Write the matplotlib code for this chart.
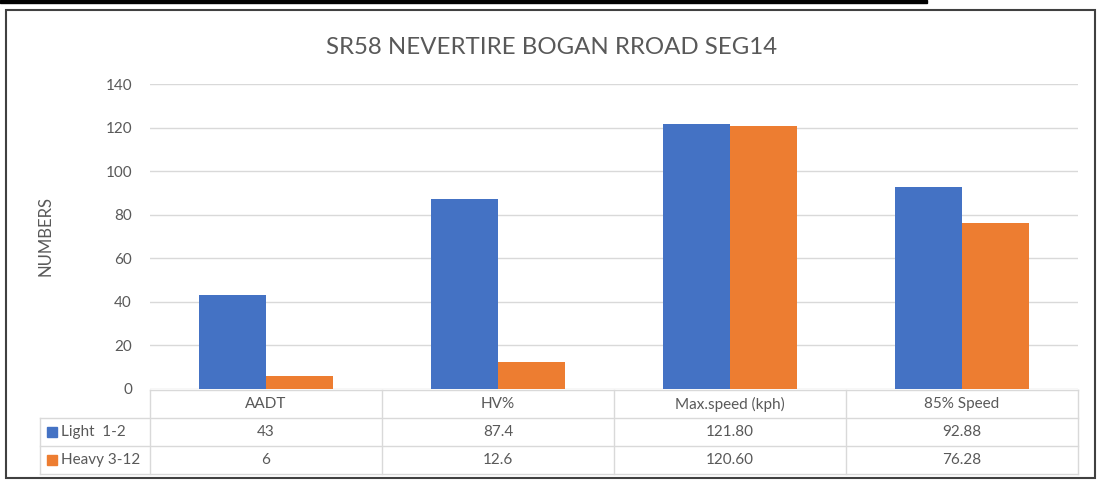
import matplotlib
matplotlib.use("Agg")
import matplotlib.pyplot as plt
from matplotlib.patches import Rectangle
from matplotlib.lines import Line2D
from matplotlib.transforms import Affine2D
import numpy as np

categories = ["AADT", "HV%", "Max.speed (kph)", "85% Speed"]
series_names = ["Light  1-2", "Heavy 3-12"]
light = [43, 87.4, 121.80, 92.88]
heavy = [6, 12.6, 120.60, 76.28]
light_labels = ["43", "87.4", "121.80", "92.88"]
heavy_labels = ["6", "12.6", "120.60", "76.28"]
colors = ["#4472C4", "#ED7D31"]
title = "SR58 NEVERTIRE BOGAN RROAD SEG14"
ylabel = "NUMBERS"
yticks = [0, 20, 40, 60, 80, 100, 120, 140]

W, H = 1097, 480
fig = plt.figure(figsize=(W / 100, H / 100), dpi=100)
plt.rcParams['font.family'] = ['Lato', 'DejaVu Sans']
txt = "#595959"
grid = "#D9D9D9"
FS = 11

# plot area in pixels
L, R, T, B = 150, 1078, 84, 389
ax = fig.add_axes([L / W, 1 - B / H, (R - L) / W, (B - T) / H])

x = np.arange(len(categories)) + 0.5
bw = 0.287
ax.bar(x - bw / 2, light, bw, color=colors[0], zorder=3)
ax.bar(x + bw / 2, heavy, bw, color=colors[1], zorder=3)
ax.set_xlim(0, len(categories))
ax.set_ylim(0, 140)
ax.set_yticks(yticks)
ax.set_yticklabels([str(v) for v in yticks], color=txt, fontsize=FS)
ax.tick_params(axis='y', length=0, pad=13)
ax.set_xticks([])
ax.grid(axis='y', color=grid, linewidth=1, zorder=0)
for s in ax.spines.values():
    s.set_visible(False)
ax.set_ylabel(ylabel, color=txt, fontsize=12, labelpad=37)

# pixel transform (x from left, y from top)
pix = Affine2D().scale(1, -1).translate(0, H)

def hline(y, x0, x1):
    fig.add_artist(Line2D([x0, x1], [y, y], transform=pix, color=grid, lw=1))

def vline(xp, y0, y1):
    fig.add_artist(Line2D([xp, xp], [y0, y1], transform=pix, color=grid, lw=1))

# data table below the plot
tb_top, tb_bot, tb_left = 390, 474, 40
row_h = (tb_bot - tb_top) / 3
ncat = len(categories)
col_x = [ax.transData.transform((i, 0))[0] for i in range(ncat + 1)]
hline(tb_top, col_x[0], col_x[-1])
for k in range(1, 4):
    hline(tb_top + row_h * k, tb_left, col_x[-1])
for c in col_x:
    vline(c, tb_top, tb_bot)
vline(tb_left, tb_top + row_h, tb_bot)

for i, cat in enumerate(categories):
    cx = (col_x[i] + col_x[i + 1]) / 2
    fig.text(cx, tb_top + row_h * 0.5, cat, transform=pix, ha='center', va='center',
             fontsize=FS, color=txt)
    fig.text(cx, tb_top + row_h * 1.5, light_labels[i], transform=pix, ha='center',
             va='center', fontsize=FS, color=txt)
    fig.text(cx, tb_top + row_h * 2.5, heavy_labels[i], transform=pix, ha='center',
             va='center', fontsize=FS, color=txt)

for i, (name, col) in enumerate(zip(series_names, colors)):
    cy = tb_top + row_h * (i + 1.5)
    fig.add_artist(Rectangle((47, cy - 5), 10, 10, transform=pix, color=col))
    fig.text(61, cy, name, transform=pix, ha='left', va='center', fontsize=FS, color=txt)

fig.text(W / 2 + 3, 48, title, transform=pix, ha='center', va='center', fontsize=17.3, color=txt)

# chart frame and top black bar
fig.add_artist(Rectangle((6, 10), 1095 - 6, 478 - 10, transform=pix, fill=False,
                         edgecolor="#404040", linewidth=1.5))
fig.add_artist(Rectangle((0, 0), 927, 3, transform=pix, color="black"))

fig.savefig("out.png", dpi=100)
